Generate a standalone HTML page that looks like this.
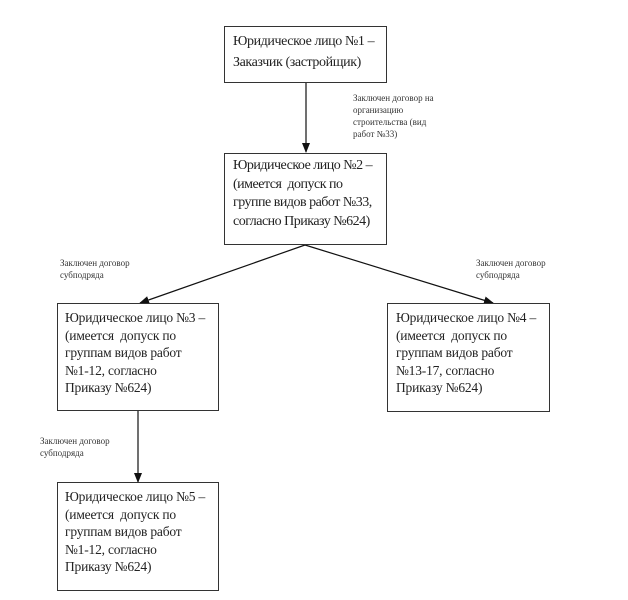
<!DOCTYPE html>
<html><head><meta charset="utf-8"><style>
html,body{margin:0;padding:0;background:#fff;}
body{width:628px;height:600px;position:relative;overflow:hidden;font-family:"Liberation Serif","DejaVu Serif",serif;color:#222;}
.box{position:absolute;border:1px solid #333;box-sizing:border-box;background:#fff;}
.t{position:absolute;font-size:13.5px;line-height:17.5px;white-space:nowrap;letter-spacing:-0.2px;}
.l{position:absolute;font-size:9px;line-height:12px;white-space:nowrap;color:#333;}
svg{position:absolute;left:0;top:0;}
</style></head><body>
<svg width="628" height="600">
<defs><marker id="a" markerWidth="10" markerHeight="10" refX="9" refY="5" orient="auto" markerUnits="userSpaceOnUse"><path d="M0,1 L10,5 L0,9 z" fill="#111"/></marker></defs>
<g stroke="#111" stroke-width="1.2" fill="none">
<line x1="306" y1="82" x2="306" y2="152" marker-end="url(#a)"/>
<line x1="305" y1="245" x2="140" y2="303" marker-end="url(#a)"/>
<line x1="305" y1="245" x2="493" y2="303" marker-end="url(#a)"/>
<line x1="138" y1="411" x2="138" y2="482" marker-end="url(#a)"/>
</g></svg>
<div class="box" style="left:224px;top:26px;width:163px;height:57px"></div>
<div class="t" style="left:233px;top:31px;line-height:21px;font-size:14px;letter-spacing:-0.4px">Юридическое лицо №1 –<br>Заказчик (застройщик)</div>
<div class="box" style="left:224px;top:153px;width:163px;height:92px"></div>
<div class="t" style="left:233px;top:157px;line-height:18.5px;font-size:14px;letter-spacing:-0.5px">Юридическое лицо №2 –<br>(имеется&nbsp; допуск по<br>группе видов работ №33,<br>согласно Приказу №624)</div>
<div class="box" style="left:57px;top:303px;width:162px;height:108px"></div>
<div class="t" style="left:65px;top:309px">Юридическое лицо №3 –<br>(имеется&nbsp; допуск по<br>группам видов работ<br>№1-12, согласно<br>Приказу №624)</div>
<div class="box" style="left:387px;top:303px;width:163px;height:109px"></div>
<div class="t" style="left:396px;top:309px">Юридическое лицо №4 –<br>(имеется&nbsp; допуск по<br>группам видов работ<br>№13-17, согласно<br>Приказу №624)</div>
<div class="box" style="left:57px;top:482px;width:162px;height:109px"></div>
<div class="t" style="left:65px;top:488px">Юридическое лицо №5 –<br>(имеется&nbsp; допуск по<br>группам видов работ<br>№1-12, согласно<br>Приказу №624)</div>
<div class="l" style="left:353px;top:92px">Заключен договор на<br>организацию<br>строительства (вид<br>работ №33)</div>
<div class="l" style="left:60px;top:257px">Заключен договор<br>субподряда</div>
<div class="l" style="left:476px;top:257px">Заключен договор<br>субподряда</div>
<div class="l" style="left:40px;top:435px">Заключен договор<br>субподряда</div>
</body></html>
